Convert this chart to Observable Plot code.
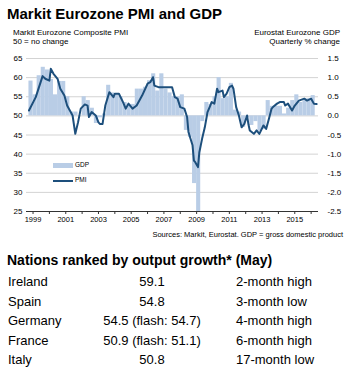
<!DOCTYPE html>
<html><head><meta charset="utf-8">
<script src="https://cdn.jsdelivr.net/npm/d3@7"></script>
<script src="https://cdn.jsdelivr.net/npm/@observablehq/plot@0.6"></script>
<style>
body{margin:0;background:#fff;font-family:Arial,"Liberation Sans",sans-serif;color:#000}
#wrap{position:relative;width:358px;height:373px;overflow:hidden;background:#fff}
.t{position:absolute;white-space:nowrap;line-height:1}
#chart{position:absolute;left:0;top:50px}
</style></head><body><div id="wrap"></div>
<script>
// PMI (monthly readings, left scale)
const pmiMonths = ["1998-10","1999-03","1999-08","1999-10","2000-01","2000-02","2000-04","2000-07","2000-09","2000-12",
"2001-02","2001-04","2001-06","2001-08","2001-10","2001-12","2002-03","2002-05","2002-06","2002-08","2002-11",
"2003-01","2003-02","2003-04","2003-06","2003-09","2003-12","2004-01","2004-04","2004-07","2004-09","2004-11",
"2005-02","2005-05","2005-09","2006-01","2006-03","2006-05","2006-06","2006-09","2007-01","2007-05","2007-07","2007-09","2007-11",
"2008-01","2008-04","2008-06","2008-07","2008-10","2008-11","2008-12","2009-02","2009-03","2009-05","2009-07","2009-09","2009-11","2009-12",
"2010-02","2010-04","2010-05","2010-08","2010-09","2010-11","2011-01","2011-03","2011-04","2011-06","2011-08","2011-10","2011-12",
"2012-02","2012-03","2012-04","2012-07","2012-09","2012-11","2013-02","2013-04","2013-06","2013-08","2013-09","2013-12",
"2014-02","2014-05","2014-06","2014-08","2014-11","2015-01","2015-04","2015-08","2015-10","2016-01","2016-03","2016-05"];
const pmiValues = [51.4,54.9,60.4,59.7,59.2,62.3,61,59.7,57.1,55.3,
52.7,51.4,50.1,45.3,48.3,51.9,53,52.7,49.7,51,50.1,
48.3,47.9,47.9,52.7,56.2,54.9,55.8,55.8,53.6,51.9,53.2,
51.9,52.7,55.3,58.4,58.8,60.1,57.9,57.5,57.5,57.5,57.5,54.9,54.5,
52.3,51.9,49.7,45.8,42.3,38.3,37.9,36.6,40.5,44,47,51,52.7,53.6,
53.2,57.1,56.2,56.6,54.9,55.8,57.5,57.9,57.1,52.3,50.1,47,47.9,
50.1,47.8,46.2,45.3,46.2,45.3,47.5,46.6,49.2,51.9,52.3,53.2,
53.6,53.6,52.7,53.2,51.4,52.7,54,54.5,54,54.5,53.2,53.1];

// GDP (quarterly % change, right scale)
const gdpQuarters = ["1998Q4",
"1999Q1","1999Q2","1999Q3","1999Q4","2000Q1","2000Q2","2000Q3","2000Q4",
"2001Q1","2001Q2","2001Q3","2001Q4","2002Q1","2002Q2","2002Q3","2002Q4",
"2003Q1","2003Q2","2003Q3","2003Q4","2004Q1","2004Q2","2004Q3","2004Q4",
"2005Q1","2005Q2","2005Q3","2005Q4","2006Q1","2006Q2","2006Q3","2006Q4",
"2007Q1","2007Q2","2007Q3","2007Q4","2008Q1","2008Q2","2008Q3","2008Q4",
"2009Q1","2009Q2","2009Q3","2009Q4","2010Q1","2010Q2","2010Q3","2010Q4",
"2011Q1","2011Q2","2011Q3","2011Q4","2012Q1","2012Q2","2012Q3","2012Q4",
"2013Q1","2013Q2","2013Q3","2013Q4","2014Q1","2014Q2","2014Q3","2014Q4",
"2015Q1","2015Q2","2015Q3","2015Q4","2016Q1"];
const gdpValues = [0.91,
0.55,1.05,1.27,1.2, 0.95,0.55,0.9,0.9,
0.5,0.1,0.1,0.0, 0.5,0.4,0.2,-0.2,
-0.05,0.05,0.8,0.6, 0.55,0.5,0.35,0.3,
0.3,0.7,0.7,0.75, 0.92,1.1,0.65,1.1,
0.7,0.6,0.5,0.5, 0.55,-0.38,-0.56,-1.77,
-2.5,-0.15,0.35,0.3, 0.5,1.0,0.45,0.5,
0.85,0.15,0.1,-0.3, -0.05,-0.25,-0.15,-0.4,
-0.35,0.4,0.25,0.25, 0.25,0.05,0.2,0.4,
0.55,0.35,0.4,0.45, 0.53];

const leftTicks = [25,30,35,40,45,50,55,60,65];
const rightTickLabels = ["-2.5","-2.0","-1.5","-1.0","-0.5","0.0","0.5","1.0","1.5"];
const yearTicks = [1999,2000,2001,2002,2003,2004,2005,2006,2007,2008,2009,2010,2011,2012,2013,2014,2015,2016];
const yearLabels = [1999,2001,2003,2005,2007,2009,2011,2013,2015];

const nations = ["Ireland","Spain","Germany","France","Italy"];
const nationValues = ["59.1","54.8","54.5 (flash: 54.7)","50.9 (flash: 51.1)","50.8"];
const nationNotes = ["2-month high","3-month low","4-month high","6-month high","17-month low"];

// build tables
const monthToYear = s => +s.slice(0,4) + (+s.slice(5,7) - 1) / 12;
const pmi = pmiMonths.map((m, i) => ({x: monthToYear(m), v: pmiValues[i]}));
// GDP drawn on the PMI scale: 0% <-> 50, 1 pt <-> 10
const gdp = gdpQuarters.map((q, i) => {
  const x1 = +q.slice(0,4) + (+q.slice(5) - 1) / 4;
  return {x1, x2: x1 + 0.25, y: 50 + 10 * gdpValues[i]};
});

const FONT = 'Arial,"Liberation Sans",sans-serif';
const BLUE = "#1d4f7c";
const LIGHT = "#b9cde6";

const chart = Plot.plot({
  width: 358, height: 175,
  marginLeft: 26, marginRight: 40, marginTop: 8, marginBottom: 14,
  style: {fontFamily: FONT, fontSize: "8px", color: "#000", background: "#fff", overflow: "visible"},
  x: {domain: [1998.6, 2016.45]},
  y: {domain: [25, 65]},
  marks: [
    Plot.ruleY(leftTicks.filter(d => d > 25), {stroke: "#d3d3d3", strokeWidth: 1}),
    Plot.rect(gdp, {x1: "x1", x2: "x2", y1: 50, y2: "y", fill: LIGHT, clip: true}),
    Plot.line(pmi, {x: "x", y: "v", stroke: BLUE, strokeWidth: 2, strokeLinejoin: "round"}),
    Plot.ruleY([25], {stroke: "#333", strokeWidth: 1}),
    Plot.axisY(leftTicks, {anchor: "left", tickSize: 0, tickPadding: 4, label: null, fontSize: 8}),
    Plot.axisY(leftTicks, {anchor: "right", tickSize: 0, tickPadding: 9, label: null, fontSize: 8,
      tickFormat: d => rightTickLabels[leftTicks.indexOf(d)]}),
    Plot.axisX(yearTicks, {anchor: "bottom", tickSize: 3, tickPadding: 2, label: null, fontSize: 7.5, stroke: "#333",
      tickFormat: d => yearLabels.includes(d) ? String(d) : ""})
  ]
});
chart.id = "chart";

const wrap = document.getElementById("wrap");
function addText(txt, opts) {
  const d = document.createElement("div");
  d.className = "t";
  d.textContent = txt;
  Object.assign(d.style, opts);
  wrap.appendChild(d);
  return d;
}
// baseline -> top for line-height 1 (ascent .905, descent .212)
const bTop = (b, fs) => (b - 0.8465 * fs) + "px";

addText("Markit Eurozone PMI and GDP", {left: "7px", top: bTop(18.3, 15), fontSize: "15px", fontWeight: "bold"});
addText("Markit Eurozone Composite PMI", {left: "13px", top: bTop(35.8, 8), fontSize: "8px"});
addText("50 = no change", {left: "13px", top: bTop(45, 8), fontSize: "8px"});
addText("Eurostat Eurozone GDP", {right: "18px", top: bTop(35.8, 8), fontSize: "8px"});
addText("Quarterly % change", {right: "18px", top: bTop(45, 8), fontSize: "8px"});

wrap.appendChild(chart);

// legend inside plot
const sw1 = document.createElement("div");
Object.assign(sw1.style, {position: "absolute", left: "53px", top: "163px", width: "20px", height: "5px", background: LIGHT});
wrap.appendChild(sw1);
addText("GDP", {left: "75px", top: bTop(167.5, 6.5), fontSize: "6.5px"});
const sw2 = document.createElement("div");
Object.assign(sw2.style, {position: "absolute", left: "53px", top: "179.5px", width: "20px", height: "2px", background: BLUE});
wrap.appendChild(sw2);
addText("PMI", {left: "75px", top: bTop(183, 6.5), fontSize: "6.5px"});

addText("Sources: Markit, Eurostat. GDP = gross domestic product", {right: "15px", top: bTop(237, 7.5), fontSize: "7.5px"});

addText("Nations ranked by output growth* (May)", {left: "7px", top: bTop(265, 14), fontSize: "14px", fontWeight: "bold"});

const baselines = [286.5, 306, 325.5, 345, 364.5];
nations.forEach((n, i) => {
  addText(n, {left: "8px", top: bTop(baselines[i], 13), fontSize: "13px"});
  addText(nationValues[i], {left: "152px", top: bTop(baselines[i], 13), fontSize: "13px", transform: "translateX(-50%)"});
  addText(nationNotes[i], {left: "236px", top: bTop(baselines[i], 13), fontSize: "13px"});
});
</script></body></html>
